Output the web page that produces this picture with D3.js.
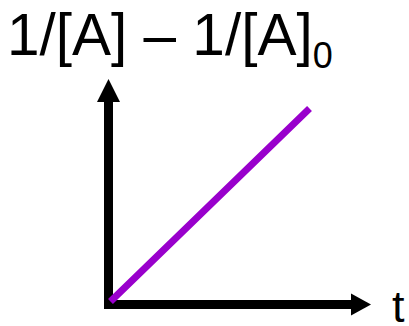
<!DOCTYPE html>
<html>
<head>
<meta charset="utf-8">
<script src="https://cdn.jsdelivr.net/npm/d3@7"></script>
<style>
  html, body { margin: 0; padding: 0; background: #fff; }
  svg { display: block; }
</style>
</head>
<body>
<script>
// Second-order kinetics: 1/[A] - 1/[A]0 grows linearly with time
const times = [0, 1];
const inverseDiff = [0, 1];
const axisExtent = { t: 1.33, y: 1.17 };

const W = 409, H = 326;
const svg = d3.select("body").append("svg")
  .attr("width", W).attr("height", H);

const x = d3.scaleLinear().domain([0, 1]).range([113, 307]);
const y = d3.scaleLinear().domain([0, 1]).range([299, 111]);

const ox = x(0) - 4.5, oy = y(0) + 5.5;   // axis corner
const axisW = 9;

// vertical axis shaft + arrowhead
const yTip = y(axisExtent.y);
svg.append("line")
  .attr("x1", ox).attr("y1", oy + axisW / 2)
  .attr("x2", ox).attr("y2", yTip + 20)
  .attr("stroke", "#000").attr("stroke-width", axisW);
svg.append("path")
  .attr("d", `M${ox},${yTip} L${ox + 11.5},${yTip + 23} L${ox - 11.5},${yTip + 23} Z`)
  .attr("fill", "#000");

// horizontal axis shaft + arrowhead
const xTip = x(axisExtent.t);
svg.append("line")
  .attr("x1", ox - axisW / 2).attr("y1", oy)
  .attr("x2", xTip - 17).attr("y2", oy)
  .attr("stroke", "#000").attr("stroke-width", axisW);
svg.append("path")
  .attr("d", `M${xTip},${oy} L${xTip - 20},${oy - 11} L${xTip - 20},${oy + 11} Z`)
  .attr("fill", "#000");

// data line
const line = d3.line().x((d, i) => x(times[i])).y(d => y(d));
svg.append("path")
  .datum(inverseDiff)
  .attr("d", line)
  .attr("fill", "none")
  .attr("stroke", "#9900cc")
  .attr("stroke-width", 7)
  .attr("stroke-linecap", "square");

// labels
const font = "Liberation Sans, Arial, sans-serif";
const title = svg.append("text")
  .attr("x", 7).attr("y", 55)
  .attr("font-family", font)
  .attr("font-size", 58.5)
  .attr("fill", "#000");
title.append("tspan").text("1/[A] \u2013 1/[A]");
title.append("tspan").attr("dy", 13).attr("font-size", 36).text("0");

svg.append("text")
  .attr("x", 392).attr("y", 322)
  .attr("font-family", font)
  .attr("font-size", 45)
  .attr("fill", "#000")
  .text("t");
</script>
</body>
</html>
